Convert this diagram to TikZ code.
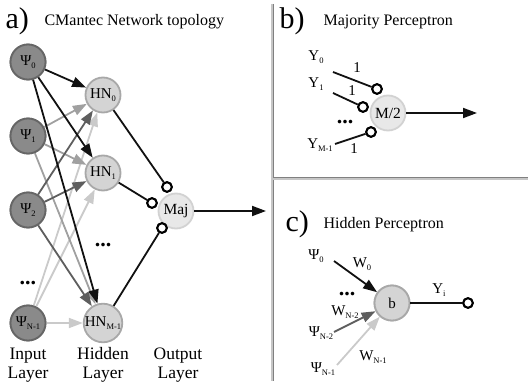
\documentclass[tikz,border=0pt]{standalone}
\usepackage{fontspec}
\setmainfont{Liberation Serif}
\usetikzlibrary{arrows.meta}
\newcommand{\lsub}[1]{\raisebox{-0.5ex}{\fontsize{8.5}{8.5}\selectfont #1}}
\definecolor{infill}{HTML}{8A8A8A}
\definecolor{inborder}{HTML}{666666}
\definecolor{hidfill}{HTML}{D4D4D4}
\definecolor{hidborder}{HTML}{A8A8A8}
\definecolor{majfill}{HTML}{E8E8E8}
\definecolor{majborder}{HTML}{D2D2D2}
\definecolor{eblack}{HTML}{111111}
\definecolor{edark}{HTML}{5E5E5E}
\definecolor{emid}{HTML}{A0A0A0}
\definecolor{elight}{HTML}{CACACA}
\definecolor{divline}{HTML}{808080}
\begin{document}
\begin{tikzpicture}[x=1pt,y=-1pt,
  innode/.style={circle, minimum size=35pt, inner sep=0pt, fill=infill, draw=inborder, line width=1.8pt, font=\fontsize{15}{15}\selectfont},
  hidnode/.style={circle, minimum size=35pt, inner sep=0pt, fill=hidfill, draw=hidborder, line width=1.8pt, font=\fontsize{15}{15}\selectfont},
  majnode/.style={circle, minimum size=35pt, inner sep=0pt, fill=majfill, draw=majborder, line width=1.8pt, font=\fontsize{15.5}{15.5}\selectfont},
  opencirc/.style={circle, minimum size=9.5pt, inner sep=0pt, fill=white, draw=black, line width=2pt},
  wire/.style={line width=1.8pt, draw=eblack},
  edge/.style={line width=1.8pt, -{Triangle[length=14pt,width=10pt]}},
  lbl/.style={font=\fontsize{17.5}{18.5}\selectfont, align=center},
  title/.style={font=\fontsize{16}{16}\selectfont, anchor=base west},
  big/.style={font=\fontsize{30}{30}\selectfont, anchor=base west},
  dots/.style={font=\fontsize{22}{22}\selectfont\bfseries},
  wl/.style={font=\fontsize{15}{15}\selectfont},
  divider/.style={draw=divline, line width=0.9pt, double=gray!45, double distance=1.2pt}
]
\useasboundingbox (0,0) rectangle (528,385);

% ---------- panel a ----------
\node[big] (ta) at (2,29) {a)};
\node[title] (tat) at (41,26) {CMantec Network topology};

\node[innode] (p0) at (28,62) {Ψ\lsub{0}};
\node[innode] (p1) at (28,136) {Ψ\lsub{1}};
\node[innode] (p2) at (28,210) {Ψ\lsub{2}};
\node[innode] (pn) at (28,323) {Ψ\lsub{N-1}};
\node[dots] (pd) at (28,283) {...};

\node[hidnode] (h0) at (103,95) {HN\lsub{0}};
\node[hidnode] (h1) at (103,173) {HN\lsub{1}};
\node[hidnode] (hm) at (103,323) {HN\lsub{M-1}};
\node[dots] (hd) at (103,245) {...};

\node[majnode] (maj) at (176,211) {Maj};

% edges input -> hidden
\draw[edge, elight] (pn) -- (h0);
\draw[edge, elight] (pn) -- (h1);
\draw[edge, elight] (pn) -- (hm);
\draw[edge, emid] (p1) -- (h0);
\draw[edge, emid] (p1) -- (h1);
\draw[edge, emid] (p1) -- (hm);
\draw[edge, edark] (p2) -- (h0);
\draw[edge, edark] (p2) -- (h1);
\draw[edge, edark] (p2) -- (hm);
\draw[edge, eblack] (p0) -- (h0);
\draw[edge, eblack] (p0) -- (h1);
\draw[edge, eblack] (p0) -- (hm);

% redraw nodes on top of edges
\node[innode] at (p0) {Ψ\lsub{0}};
\node[innode] at (p1) {Ψ\lsub{1}};
\node[innode] at (p2) {Ψ\lsub{2}};
\node[innode] at (pn) {Ψ\lsub{N-1}};

% hidden -> output
\node[opencirc] (c0) at (167,187) {};
\node[opencirc] (c1) at (152,203) {};
\node[opencirc] (c2) at (162,228) {};
\draw[wire] (h0) -- (c0);
\draw[wire] (h1) -- (c1);
\draw[wire] (hm) -- (c2);
\node[opencirc] at (c0) {};
\node[opencirc] at (c1) {};
\node[opencirc] at (c2) {};

\coordinate (majend) at (266,211);
\draw[edge, eblack] (maj) -- (majend);

\node[lbl] (l1) at (28,365) {Input\\Layer};
\node[lbl] (l2) at (103,365) {Hidden\\Layer};
\node[lbl] (l3) at (178,365) {Output\\Layer};

% ---------- dividers ----------
\coordinate (vt) at (272,4);
\coordinate (vb) at (272,381);
\coordinate (hl) at (273,179);
\coordinate (hr) at (528,179);
\draw[divider] (vt) -- (vb);
\draw[divider] (hl) -- (hr);

% ---------- panel b ----------
\node[big] (tb) at (276,29) {b)};
\node[title] (tbt) at (320,26) {Majority Perceptron};

\node[majnode] (m2) at (388,113) {M/2};
\coordinate (m2end) at (477,113);
\draw[edge, eblack] (m2) -- (m2end);

\node[wl] (y0) at (316,57) {Y\lsub{0}};
\node[wl] (y1) at (316,84) {Y\lsub{1}};
\node[wl] (ym) at (320,145) {Y\lsub{M-1}};
\node[dots] (bd) at (345,122) {...};

\coordinate (s0) at (333,72);
\coordinate (s1) at (333,93);
\coordinate (sm) at (335,144);
\node[opencirc] (b0) at (377,89) {};
\node[opencirc] (b1) at (363,107) {};
\node[opencirc] (bm) at (371,132) {};
\draw[wire] (s0) -- (b0);
\draw[wire] (s1) -- (b1);
\draw[wire] (sm) -- (bm);
\node[opencirc] at (b0) {};
\node[opencirc] at (b1) {};
\node[opencirc] at (bm) {};
\node[wl] (w0b) at (357,68) {1};
\node[wl] (w1b) at (352,91) {1};
\node[wl] (wmb) at (354,149) {1};

% ---------- panel c ----------
\node[big] (tc) at (282,232) {c)};
\node[title] (tct) at (320,229) {Hidden Perceptron};

\node[hidnode] (bn) at (392,303) {b};

\coordinate (q0) at (334,261);
\coordinate (q2) at (334,332);
\coordinate (q3) at (337,365);
\draw[edge, elight] (q3) -- (bn);
\draw[edge, edark] (q2) -- (bn);
\draw[edge, eblack] (q0) -- (bn);
\node[hidnode] at (bn) {b};

\node[opencirc] (yo) at (468,303) {};
\draw[wire] (bn) -- (yo);
\node[opencirc] at (yo) {};

\node[wl] (cp0) at (316,256) {Ψ\lsub{0}};
\node[wl] (cw0) at (362,264) {W\lsub{0}};
\node[dots] (cd) at (347,294) {...};
\node[wl] (cwn2) at (345,312) {W\lsub{N-2}};
\node[wl] (cpn2) at (321,333) {Ψ\lsub{N-2}};
\node[wl] (cwn1) at (373,357) {W\lsub{N-1}};
\node[wl] (cpn1) at (323,369) {Ψ\lsub{N-1}};
\node[wl] (cyi) at (439,290) {Y\lsub{i}};
\end{tikzpicture}
\end{document}
